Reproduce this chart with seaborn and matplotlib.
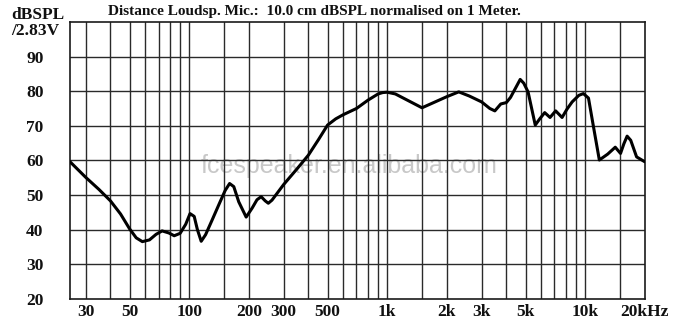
import numpy as np
import pandas as pd
import seaborn as sns
import matplotlib
matplotlib.use("Agg")
import matplotlib.pyplot as plt
from matplotlib.ticker import FixedLocator, FixedFormatter, NullFormatter

# ---- data ----
freq_hz = [25, 30, 35, 40, 45, 50, 54, 58, 63, 68, 73, 79, 84, 90, 96, 101, 106,
           110, 115, 121, 130, 142, 152, 160, 168, 178, 194, 208, 220, 231, 242,
           251, 262, 300, 350, 400, 450, 500, 550, 600, 700, 800, 900, 950, 1000,
           1100, 1500, 2000, 2300, 2600, 3000, 3300, 3500, 3750, 4000, 4200,
           4700, 4900, 5150, 5600, 5900, 6250, 6650, 7100, 7650, 8100, 8600,
           9300, 9800, 10400, 11000, 11800, 13000, 14200, 15100, 15700, 16300,
           17000, 18200, 20000]
spl_db = [59.6, 55.1, 51.6, 48.3, 44.5, 40.2, 37.6, 36.5, 37.0, 38.6, 39.6, 39.0,
          38.2, 38.9, 41.5, 44.6, 43.8, 40.0, 36.6, 38.5, 42.5, 47.5, 51.3, 53.3,
          52.4, 48.0, 43.6, 46.2, 48.6, 49.5, 48.3, 47.6, 48.5, 53.0, 57.5, 61.5,
          66.0, 70.2, 72.0, 73.2, 75.0, 77.4, 79.2, 79.6, 79.7, 79.2, 75.2, 78.4,
          79.8, 78.6, 76.9, 75.0, 74.3, 76.3, 76.7, 78.2, 83.4, 82.3, 79.8, 70.2,
          72.0, 73.8, 72.4, 74.3, 72.4, 74.8, 76.9, 78.8, 79.3, 78.0, 70.0, 60.1,
          61.8, 63.8, 62.0, 64.8, 67.0, 65.8, 61.0, 59.6]

grid_freqs = [30, 40, 50, 60, 70, 80, 90, 100, 150, 200, 300, 400, 500, 600,
              700, 800, 900, 1000, 1500, 2000, 3000, 4000, 5000, 6000, 7000,
              8000, 9000, 10000, 15000]
tick_freqs = [30, 50, 100, 200, 300, 500, 1000, 2000, 3000, 5000, 10000, 20000]
tick_labels = ["30", "50", "100", "200", "300", "500", "1k", "2k", "3k", "5k",
               "10k", "20kHz"]
y_ticks = [20, 30, 40, 50, 60, 70, 80, 90]
y_grid = [30, 40, 50, 60, 70, 80, 90]

title_text = "Distance Loudsp. Mic.:  10.0 cm dBSPL normalised on 1 Meter."
ylabel_text = "dBSPL\n/2.83V"
watermark_text = "fcespeaker.en.alibaba.com"

# ---- plotting ----
sns.set_theme(style="white")
plt.rcParams['font.family'] = ['Liberation Serif', 'DejaVu Serif']

fig = plt.figure(figsize=(7.0, 3.34), dpi=100)
ax = fig.add_axes([70 / 700, 35.3 / 334, 574.7 / 700, 276.7 / 334])

df = pd.DataFrame({"freq": freq_hz, "spl": spl_db})
sns.lineplot(data=df, x="freq", y="spl", ax=ax, color="black", linewidth=2.2,
             estimator=None, zorder=4)

ax.set_xscale("log")
ax.set_xlim(25, 20000)
ax.set_ylim(20, 100)

for f in grid_freqs:
    ax.axvline(f, color="#2a2a2a", linewidth=1.0, zorder=2)
for v in y_grid:
    ax.axhline(v, color="#2a2a2a", linewidth=1.0, zorder=2)

ax.xaxis.set_major_locator(FixedLocator(tick_freqs))
ax.xaxis.set_major_formatter(FixedFormatter(tick_labels))
ax.xaxis.set_minor_locator(FixedLocator([]))
ax.xaxis.set_minor_formatter(NullFormatter())
ax.set_yticks(y_ticks)
ax.set_yticklabels([str(v) for v in y_ticks])

ax.tick_params(axis="both", which="both", length=0, labelsize=12.5,
               colors="#111111")
ax.tick_params(axis="y", pad=19)
ax.tick_params(axis="x", pad=4)
for lab in ax.get_xticklabels() + ax.get_yticklabels():
    lab.set_fontweight("bold")

ax.set_xlabel("")
ax.set_ylabel("")
for s in ax.spines.values():
    s.set_color("#1a1a1a")
    s.set_linewidth(1.2)
    s.set_visible(True)

ax.text(201 / 700, 1 - 166 / 334, watermark_text, transform=fig.transFigure,
        ha="left", va="center", fontsize=18, color="#c8c8c8",
        family=["Liberation Sans", "DejaVu Sans"], zorder=1)

fig.text(108 / 700, 1 - 11 / 334, title_text, ha="left", va="center",
         fontsize=11, color="#111111", fontweight="bold")
fig.text(38 / 700, 1 - 23 / 334, ylabel_text, ha="center", va="center",
         fontsize=12.5, color="#111111", fontweight="bold",
         linespacing=0.95, multialignment="left")

fig.savefig("out.png", dpi=100, facecolor="white")
